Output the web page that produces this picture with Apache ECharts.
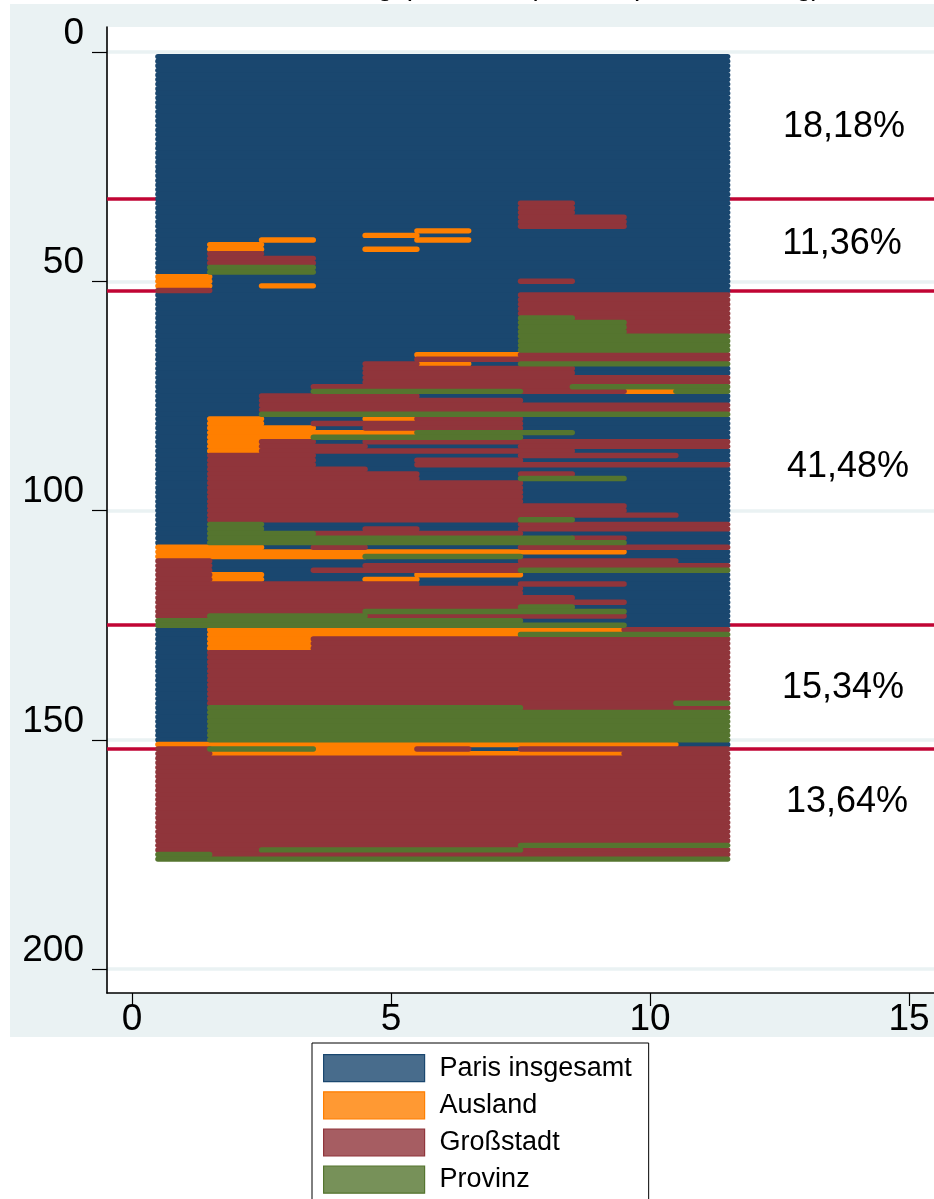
<!DOCTYPE html>
<html><head><meta charset="utf-8">
<style>html,body{margin:0;padding:0;background:#fff;overflow:hidden}#c{width:934px;height:1199px}</style>
<script src="https://cdn.jsdelivr.net/npm/echarts@6/dist/echarts.min.js"></script>
</head><body><div id="c"></div>
<script>
const stateNames = ['Paris insgesamt','Ausland','Großstadt','Provinz'];
const stateColors = ['#1a476f','#ff7f00','#90353b','#55752f'];
const legendFills = ['rgba(26,71,111,0.8)','rgba(255,127,0,0.8)','rgba(144,53,59,0.8)','rgba(85,117,47,0.8)'];
const xTicks = [0,5,10,15];
const yTicks = [0,50,100,150,200];
const clusterBreaks = [32,52,125,152];
const shareLabels = ['18,18%','11,36%','41,48%','15,34%','13,64%'];
const rowCount = 176;
// runs per month column: [firstRow, lastRow, state]; 0 Paris, 1 Ausland, 2 Großstadt, 3 Provinz
const col1 = [[1,48,0],[49,51,1],[52,52,2],[53,107,0],[108,110,1],[111,123,2],[124,125,3],[126,150,0],[151,151,1],[152,174,2],[175,176,3]];
const col2 = [[1,41,0],[42,43,1],[44,46,2],[47,48,3],[49,79,0],[80,87,1],[88,102,2],[103,107,3],[108,110,1],[111,113,0],[114,115,1],[116,122,2],[123,125,3],[126,130,1],[131,142,2],[143,150,3],[151,151,1],[152,152,3],[153,153,1],[154,175,2],[176,176,3]];
const col3 = [[1,40,0],[41,41,1],[42,44,0],[45,46,2],[47,48,3],[49,50,0],[51,51,1],[52,74,0],[75,78,2],[79,79,3],[80,81,0],[82,84,1],[85,102,2],[103,104,0],[105,107,3],[108,108,0],[109,110,1],[111,115,0],[116,122,2],[123,125,3],[126,130,1],[131,142,2],[143,150,3],[151,151,1],[152,152,3],[153,153,1],[154,173,2],[174,174,3],[175,175,2],[176,176,3]];
const col4 = [[1,72,0],[73,73,2],[74,74,3],[75,78,2],[79,79,3],[80,80,0],[81,81,2],[82,82,0],[83,83,1],[84,84,3],[85,85,0],[86,87,2],[88,90,0],[91,102,2],[103,104,0],[105,105,2],[106,107,3],[108,108,2],[109,110,1],[111,112,0],[113,113,2],[114,115,0],[116,122,2],[123,125,3],[126,127,1],[128,142,2],[143,150,3],[151,153,1],[154,173,2],[174,174,3],[175,175,2],[176,176,3]];
const col5 = [[1,39,0],[40,40,1],[41,42,0],[43,43,1],[44,67,0],[68,73,2],[74,74,3],[75,78,2],[79,79,3],[80,80,1],[81,82,2],[83,83,1],[84,84,3],[85,85,2],[86,86,0],[87,87,2],[88,91,0],[92,102,2],[103,103,0],[104,105,2],[106,107,3],[108,108,0],[109,109,1],[110,110,3],[111,111,0],[112,113,2],[114,114,0],[115,115,1],[116,121,2],[122,122,3],[123,123,2],[124,125,3],[126,127,1],[128,142,2],[143,150,3],[151,153,1],[154,173,2],[174,174,3],[175,175,2],[176,176,3]];
const col6 = [[1,38,0],[39,39,1],[40,40,0],[41,41,1],[42,65,0],[66,66,1],[67,67,2],[68,68,1],[69,73,2],[74,74,3],[75,75,0],[76,78,2],[79,79,3],[80,82,2],[83,84,3],[85,85,2],[86,86,0],[87,87,2],[88,88,0],[89,90,2],[91,93,0],[94,102,2],[103,104,0],[105,105,2],[106,107,3],[108,108,0],[109,109,1],[110,110,3],[111,111,0],[112,113,2],[114,114,1],[115,116,0],[117,121,2],[122,122,3],[123,123,2],[124,125,3],[126,127,1],[128,142,2],[143,150,3],[151,151,1],[152,152,2],[153,153,1],[154,173,2],[174,174,3],[175,175,2],[176,176,3]];
const col7 = [[1,65,0],[66,66,1],[67,67,2],[68,68,0],[69,73,2],[74,74,3],[75,75,0],[76,78,2],[79,79,3],[80,82,2],[83,84,3],[85,85,2],[86,86,0],[87,87,2],[88,88,0],[89,90,2],[91,93,0],[94,102,2],[103,104,0],[105,105,2],[106,107,3],[108,108,0],[109,109,1],[110,110,3],[111,111,0],[112,113,2],[114,114,1],[115,116,0],[117,121,2],[122,122,3],[123,123,2],[124,125,3],[126,127,1],[128,142,2],[143,150,3],[151,151,1],[152,152,0],[153,153,1],[154,173,2],[174,174,3],[175,175,2],[176,176,3]];
const col8 = [[1,32,0],[33,38,2],[39,49,0],[50,50,2],[51,52,0],[53,57,2],[58,65,3],[66,67,2],[68,68,3],[69,74,2],[75,76,0],[77,78,2],[79,79,3],[80,82,0],[83,83,3],[84,84,0],[85,88,2],[89,89,0],[90,90,2],[91,91,0],[92,92,2],[93,93,3],[94,98,0],[99,101,2],[102,102,3],[103,104,2],[105,105,0],[106,107,3],[108,108,2],[109,109,1],[110,110,0],[111,112,2],[113,113,3],[114,115,0],[116,116,2],[117,118,0],[119,120,2],[121,122,3],[123,123,2],[124,124,0],[125,125,3],[126,126,1],[127,127,3],[128,143,2],[144,150,3],[151,151,1],[152,152,2],[153,153,1],[154,172,2],[173,173,3],[174,175,2],[176,176,3]];
const col9 = [[1,35,0],[36,38,2],[39,52,0],[53,58,2],[59,65,3],[66,67,2],[68,68,3],[69,70,0],[71,72,2],[73,73,3],[74,74,2],[75,76,0],[77,78,2],[79,79,3],[80,84,0],[85,86,2],[87,87,0],[88,88,2],[89,89,0],[90,90,2],[91,92,0],[93,93,3],[94,98,0],[99,101,2],[102,102,0],[103,104,2],[105,105,0],[106,106,2],[107,107,3],[108,108,2],[109,109,1],[110,110,0],[111,112,2],[113,113,3],[114,115,0],[116,116,2],[117,119,0],[120,120,2],[121,121,0],[122,122,3],[123,123,2],[124,124,0],[125,125,3],[126,126,1],[127,127,3],[128,143,2],[144,150,3],[151,151,1],[152,152,2],[153,153,1],[154,172,2],[173,173,3],[174,175,2],[176,176,3]];
const col10 = [[1,52,0],[53,61,2],[62,65,3],[66,67,2],[68,68,3],[69,70,0],[71,72,2],[73,73,3],[74,74,1],[75,76,0],[77,78,2],[79,79,3],[80,84,0],[85,86,2],[87,87,0],[88,88,2],[89,89,0],[90,90,2],[91,100,0],[101,101,2],[102,102,0],[103,104,2],[105,107,0],[108,108,2],[109,110,0],[111,112,2],[113,113,3],[114,125,0],[126,126,2],[127,127,3],[128,143,2],[144,150,3],[151,151,1],[152,172,2],[173,173,3],[174,175,2],[176,176,3]];
const col11 = [[1,52,0],[53,61,2],[62,65,3],[66,67,2],[68,68,3],[69,70,0],[71,72,2],[73,74,3],[75,76,0],[77,78,2],[79,79,3],[80,84,0],[85,86,2],[87,89,0],[90,90,2],[91,102,0],[103,104,2],[105,107,0],[108,108,2],[109,111,0],[112,112,2],[113,113,3],[114,125,0],[126,126,2],[127,127,3],[128,141,2],[142,142,3],[143,143,2],[144,150,3],[151,151,0],[152,172,2],[173,173,3],[174,175,2],[176,176,3]];
const columns = [col1,col2,col3,col4,col5,col6,col7,col8,col9,col10,col11];

// Rebuild each person's row, then merge equal neighbours into one spell
const spells = stateNames.map(() => []);
for (let r = 1; r <= rowCount; r++) {
  const seq = columns.map(c => c.find(s => r >= s[0] && r <= s[1])[2]);
  let start = 0;
  for (let k = 1; k <= seq.length; k++) {
    if (k === seq.length || seq[k] !== seq[start]) {
      spells[seq[start]].push([start + 0.5, k + 0.5, r]);
      start = k;
    }
  }
}
const renderSpell = (color) => (params, api) => {
  const a = api.coord([api.value(0), api.value(2)]);
  const b = api.coord([api.value(1), api.value(2)]);
  return {type:'line', shape:{x1:a[0],y1:a[1],x2:b[0],y2:b[1]},
          style:{stroke:color, lineWidth:5.4, lineCap:'round', fill:null}};
};
const series = stateNames.map((name,i) => ({
  name, type:'custom', coordinateSystem:'cartesian2d', clip:false, silent:true,
  animation:false, renderItem: renderSpell(stateColors[i]), data: spells[i],
  encode:{x:[0,1], y:2}, z:3,
  itemStyle:{color:stateColors[i]}
}));
series[0].markLine = {silent:true, symbol:'none', animation:false, z:1, label:{show:false},
  lineStyle:{color:'#c10534', width:3.6, type:'solid'},
  data: clusterBreaks.map(v => ({yAxis:v}))};

const F = '"Liberation Sans", Arial, sans-serif';
const shareCenters = [[844,127],[842,244],[848,467],[843,688],[847,802]];
const chart = echarts.init(document.getElementById('c'), null, {renderer:'canvas', width:934, height:1199});
chart.setOption({
  animation:false,
  backgroundColor:'#fff',
  title:{text:'Wanderungsprozesse (1816, Spellenordnung)', left:249, top:-27, padding:0,
    textStyle:{fontFamily:F, fontWeight:'normal', fontSize:28, color:'#000'}},
  graphic:[
    {type:'rect', z:-5, silent:true, shape:{x:10,y:4,width:924,height:1033}, style:{fill:'#eaf2f3'}},
    ...shareLabels.map((t,i)=>({type:'text', z:10, silent:true, x:shareCenters[i][0], y:shareCenters[i][1],
      style:{text:t, font:'36px '+F, fill:'#000', textAlign:'center', textVerticalAlign:'middle'}}))
  ],
  grid:{left:107, top:27, width:827, height:966, show:true, backgroundColor:'#fff', borderWidth:0, containLabel:false},
  xAxis:{type:'value', min:-0.483, max:15.483, axisLine:{onZero:false, lineStyle:{color:'#000',width:1.6}},
    axisTick:{show:true, length:13, customValues:xTicks, lineStyle:{color:'#000',width:1.2}},
    axisLabel:{customValues:xTicks, fontFamily:F, fontSize:37, color:'#000', margin:8, showMinLabel:true, showMaxLabel:true},
    splitLine:{show:false}},
  yAxis:{type:'value', inverse:true, min:-5.45, max:205.2, axisLine:{onZero:false, lineStyle:{color:'#000',width:1.6}},
    axisTick:{show:true, length:15, customValues:yTicks, lineStyle:{color:'#000',width:1.2}},
    axisLabel:{customValues:yTicks, fontFamily:F, fontSize:37, color:'#000', margin:23, verticalAlign:'bottom', lineHeight:37, padding:[0,0,0,0]},
    splitLine:{show:true, lineStyle:{color:'#eaf2f3', width:3.6}}},
  legend:{orient:'vertical', left:312, top:1043, height:400, padding:[11,17,20,11], itemGap:9, itemWidth:101, itemHeight:27,
    backgroundColor:'#fff', borderColor:'#000', borderWidth:1, borderRadius:0, icon:'rect',
    selectedMode:false, textStyle:{fontFamily:F, fontSize:27, color:'#000', padding:[2,0,0,10]},
    data:stateNames.map((n,i)=>({name:n, icon:'rect', itemStyle:{color:legendFills[i], borderColor:stateColors[i], borderWidth:1.2}}))},
  series
});
</script></body></html>
